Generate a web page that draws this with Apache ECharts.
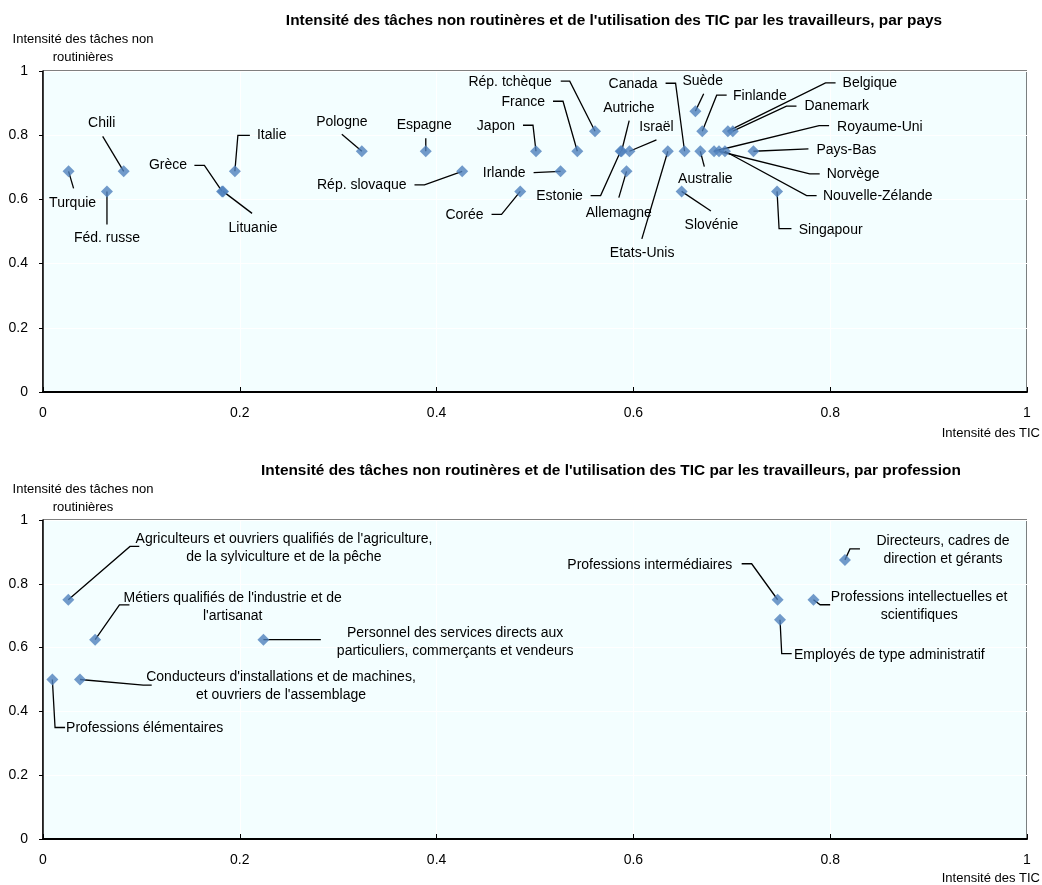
<!DOCTYPE html>
<html>
<head>
<meta charset="utf-8">
<script src="https://cdn.jsdelivr.net/npm/echarts@6/dist/echarts.min.js"></script>
<style>html,body{margin:0;padding:0;background:#fff;}#chart{width:1042px;height:885px;}</style>
</head>
<body>
<div id="chart"></div>
<script>
// ---- Data ----
const paysNames = ['Turquie','Chili','Féd. russe','Grèce','Lituanie','Italie','Pologne','Espagne','Rép. slovaque','Corée','Japon','Irlande','France','Rép. tchèque','Estonie','Autriche','Israël','Allemagne','Etats-Unis','Canada','Australie','Slovénie','Suède','Finlande','Belgique','Danemark','Royaume-Uni','Pays-Bas','Norvège','Nouvelle-Zélande','Singapour'];
const paysTIC = [0.026,0.082,0.065,0.182,0.183,0.195,0.324,0.389,0.426,0.485,0.501,0.526,0.543,0.561,0.587,0.588,0.596,0.593,0.635,0.652,0.668,0.649,0.663,0.670,0.696,0.701,0.682,0.722,0.687,0.693,0.746];
const paysNonRoutine = [0.6875,0.6875,0.625,0.625,0.625,0.6875,0.75,0.75,0.6875,0.625,0.75,0.6875,0.75,0.8125,0.75,0.75,0.75,0.6875,0.75,0.75,0.75,0.625,0.875,0.8125,0.8125,0.8125,0.75,0.75,0.75,0.75,0.625];

const profNames = ["Agriculteurs et ouvriers qualifiés de l'agriculture,\nde la sylviculture et de la pêche","Métiers qualifiés de l'industrie et de\nl'artisanat","Personnel des services directs aux\nparticuliers, commerçants et vendeurs","Professions élémentaires","Conducteurs d'installations et de machines,\net ouvriers de l'assemblage","Directeurs, cadres de\ndirection et gérants","Professions intermédiaires","Professions intellectuelles et\nscientifiques","Employés de type administratif"];
const profTIC = [0.0257,0.053,0.224,0.0095,0.0376,0.815,0.7466,0.783,0.749];
const profNonRoutine = [0.75,0.625,0.625,0.5,0.5,0.875,0.75,0.75,0.6875];

const tickLabels = ['0','0.2','0.4','0.6','0.8','1'];

// ---- Label layout (pixel offsets from each point: text anchor, alignment, leader line vertices) ----
const paysLabelLayout = [
  {t:[4,32],a:'center',l:[[5,17]]},
  {t:[-22,-48],a:'center',l:[[-21,-35]]},
  {t:[0,47],a:'center',l:[[0,33]]},
  {t:[-35,-26],a:'right',l:[[-17.7,-26],[-27.7,-26]]},
  {t:[30,37],a:'center',l:[[29,22]]},
  {t:[22,-36],a:'left',l:[[3,-36],[15,-36]]},
  {t:[-20,-29],a:'center',l:[[-20,-17]]},
  {t:[-1.5,-26.5],a:'center',l:[[0,-13]]},
  {t:[-55.7,14.3],a:'right',l:[[-37.7,13.5],[-47.7,13.5]]},
  {t:[-36.7,24],a:'right',l:[[-18.7,23],[-28.7,23]]},
  {t:[-21,-25],a:'right',l:[[-3,-26],[-13,-26]]},
  {t:[-35,2],a:'right',l:[[-27,1.3]]},
  {t:[-32.3,-49],a:'right',l:[[-14.3,-50],[-24.3,-50]]},
  {t:[-43.3,-49],a:'right',l:[[-25.3,-50],[-34.3,-50]]},
  {t:[-37.7,45.3],a:'right',l:[[-20,44.3],[-30,44.3]]},
  {t:[7.3,-43],a:'center',l:[[7.6,-30.7]]},
  {t:[27,-24],a:'center',l:[[27,-11.4]]},
  {t:[-7.7,42],a:'center',l:[[-7.7,26.3]]},
  {t:[-25.7,102],a:'center',l:[[-26,87.6]]},
  {t:[-27,-66.7],a:'right',l:[[-9,-68],[-19,-68]]},
  {t:[5,28.3],a:'center',l:[[4,15.3]]},
  {t:[29.8,34],a:'center',l:[[29.3,19.7]]},
  {t:[7.3,-30],a:'center',l:[[8.3,-17.4]]},
  {t:[30.7,-35],a:'left',l:[[14.4,-36],[24.4,-36]]},
  {t:[114.7,-48.3],a:'left',l:[[97.7,-48.3],[107.7,-48.3]]},
  {t:[71.7,-25],a:'left',l:[[53.7,-25],[63.7,-25]]},
  {t:[123,-24],a:'left',l:[[105,-25.7],[115,-25.7]]},
  {t:[63,-1.4],a:'left',l:[[55,-2.4]]},
  {t:[107.7,23.3],a:'left',l:[[90.7,22.6],[100.7,22.6]]},
  {t:[98,45.3],a:'left',l:[[81.7,44.3],[91.7,44.3]]},
  {t:[21.7,39],a:'left',l:[[2,37.3],[14.4,37.3]]}
];
const profLabelLayout = [
  {t:[215.7,-51.7],a:'center',l:[[61.7,-53.3],[71,-53.3]]},
  {t:[137.5,-32.8],a:'center',l:[[24.3,-34.7],[34.3,-34.7]]},
  {t:[191.7,2.7],a:'center',l:[[57.4,0]]},
  {t:[13.7,49],a:'left',l:[[2.7,48],[12.7,48]]},
  {t:[201,6.5],a:'center',l:[[63.3,5.7],[71.7,5.7]]},
  {t:[98,-10],a:'center',l:[[5,-11],[15,-11]]},
  {t:[-45.4,-34.3],a:'right',l:[[-26,-36],[-36,-36]]},
  {t:[105.7,6.2],a:'center',l:[[6.7,5],[16.7,5]]},
  {t:[14,35],a:'left',l:[[1.7,34],[11.7,34]]}
];

const FONT = '"Liberation Sans", Arial, sans-serif';
const BG = '#F3FEFF';
const MARK = '#4F81BD';

function xAxisCfg(gi){
  return {
    type:'value', gridIndex:gi, min:0, max:1, interval:0.2,
    axisLine:{show:true, onZero:false, lineStyle:{color:'#000', width:2}},
    axisTick:{show:true, inside:true, length:5, lineStyle:{color:'#000'}},
    axisLabel:{margin:14, color:'#000', fontSize:14, fontFamily:FONT,
      formatter:function(v){ return tickLabels[Math.round(v/0.2)]; }},
    splitLine:{show:true, lineStyle:{color:'#FFFFFF', width:1}}
  };
}
function yAxisCfg(gi){
  return {
    type:'value', gridIndex:gi, min:0, max:1, interval:0.2,
    axisLine:{show:true, onZero:false, lineStyle:{color:'#000', width:1.5}},
    axisTick:{show:true, inside:false, length:4, lineStyle:{color:'#000'}},
    axisLabel:{margin:15, color:'#000', fontSize:14, fontFamily:FONT,
      formatter:function(v){ return tickLabels[Math.round(v/0.2)]; }},
    splitLine:{show:true, lineStyle:{color:'#FFFFFF', width:1}}
  };
}
function scatterSeries(gi, xs, ys){
  return {
    type:'scatter', xAxisIndex:gi, yAxisIndex:gi, z:4,
    symbol:'diamond', symbolSize:12, itemStyle:{color:MARK},
    data: xs.map(function(x,i){ return [x, ys[i]]; }), silent:true
  };
}
function labelSeries(gi, names, xs, ys, layout){
  return {
    type:'custom', xAxisIndex:gi, yAxisIndex:gi, z:3, clip:false, silent:true,
    encode:{x:0, y:1},
    data: xs.map(function(x,i){ return [x, ys[i]]; }),
    renderItem:function(params, api){
      const i = params.dataIndex;
      const p = api.coord([api.value(0), api.value(1)]);
      const L = layout[i];
      const pts = [p].concat(L.l.map(function(d){ return [p[0]+d[0], p[1]+d[1]]; }));
      return {type:'group', children:[
        {type:'polyline', shape:{points:pts}, style:{stroke:'#000', lineWidth:1.3, fill:null}},
        {type:'text', style:{text:names[i], x:p[0]+L.t[0], y:p[1]+L.t[1],
          align:L.a, verticalAlign:'middle', textAlign:L.a, textVerticalAlign:'middle',
          fontSize:14, fontFamily:FONT, fill:'#000', lineHeight:18}}
      ]};
    }
  };
}

const chart = echarts.init(document.getElementById('chart'), null, {renderer:'canvas'});
const titleStyle = {fontSize:15.4, fontWeight:'bold', color:'#000', fontFamily:FONT};
const nameStyle = {fontSize:13, fontWeight:'normal', color:'#000', fontFamily:FONT, lineHeight:18};
chart.setOption({
  animation:false,
  backgroundColor:'#FFFFFF',
  title:[
    {text:"Intensité des tâches non routinères et de l'utilisation des TIC par les travailleurs, par pays", left:609, top:8, textAlign:'center', textStyle:titleStyle},
    {text:"Intensité des tâches non routinères et de l'utilisation des TIC par les travailleurs, par profession", left:606, top:458, textAlign:'center', textStyle:titleStyle},
    {text:"Intensité des tâches non\nroutinières", left:83, top:30, textAlign:'center', textStyle:nameStyle, padding:0},
    {text:"Intensité des tâches non\nroutinières", left:83, top:480, textAlign:'center', textStyle:nameStyle, padding:0},
    {text:"Intensité des TIC", left:1040, top:424, textAlign:'right', textStyle:nameStyle, padding:0},
    {text:"Intensité des TIC", left:1040, top:869, textAlign:'right', textStyle:nameStyle, padding:0}
  ],
  grid:[
    {left:43, top:71, width:984, height:321, show:true, backgroundColor:BG, borderColor:'#000', borderWidth:1},
    {left:43, top:520, width:984, height:319, show:true, backgroundColor:BG, borderColor:'#000', borderWidth:1}
  ],
  xAxis:[xAxisCfg(0), xAxisCfg(1)],
  yAxis:[yAxisCfg(0), yAxisCfg(1)],
  series:[
    labelSeries(0, paysNames, paysTIC, paysNonRoutine, paysLabelLayout),
    scatterSeries(0, paysTIC, paysNonRoutine),
    labelSeries(1, profNames, profTIC, profNonRoutine, profLabelLayout),
    scatterSeries(1, profTIC, profNonRoutine)
  ]
});
</script>
</body>
</html>
